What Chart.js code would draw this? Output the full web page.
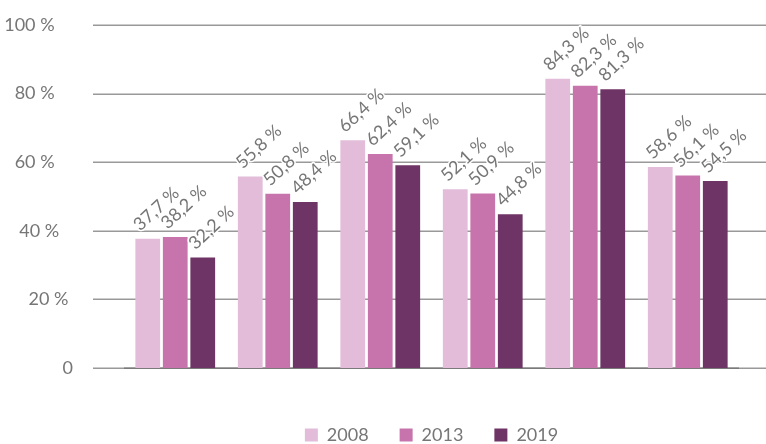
<!DOCTYPE html>
<html>
<head>
<meta charset="utf-8">
<script src="https://cdn.jsdelivr.net/npm/chart.js@4"></script>
<style>
  html, body { margin: 0; padding: 0; background: #fff; }
  #wrap { width: 766px; height: 444px; }
</style>
</head>
<body>
<div id="wrap"><canvas id="chart" width="766" height="444"></canvas></div>
<script>
const categories = ['CCD', 'CCSB', 'COR', 'CCMDL', 'CA3B', 'CCPA'];
const years = ['2008', '2013', '2019'];
const values2008 = [37.7, 55.8, 66.4, 52.1, 84.3, 58.6];
const values2013 = [38.2, 50.8, 62.4, 50.9, 82.3, 56.1];
const values2019 = [32.2, 48.4, 59.1, 44.8, 81.3, 54.5];
const yTicks = [0, 20, 40, 60, 80, 100];
// the original's tick labels are not quite right-aligned; trailing spaces mimic that
const yTickTrail = { 0: '', 20: ' ', 40: '   ', 60: '    ', 80: '    ', 100: '    ' };

const colors = ['#e2bcd9', '#c774ad', '#6e3465'];
const textGray = '#767676';

function formatPct(v) {
    return v.toFixed(1).replace('.', ',') + ' %';
}

// gridlines run wider than the category area, like the original
const wideGrid = {
    id: 'wideGrid',
    beforeDatasetsDraw(chart) {
        const ctx = chart.ctx;
        const y = chart.scales.y;
        ctx.save();
        ctx.lineWidth = 1.5;
        yTicks.forEach(t => {
            const py = Math.round(y.getPixelForValue(t)) + 0.25;
            ctx.strokeStyle = '#999999';
            ctx.beginPath();
            ctx.moveTo(93, py);
            ctx.lineTo(766, py);
            ctx.stroke();
        });
        const py0 = Math.round(y.getPixelForValue(0)) + 0.25;
        ctx.strokeStyle = '#7a7a7a';
        ctx.beginPath();
        ctx.moveTo(chart.chartArea.left, py0);
        ctx.lineTo(chart.chartArea.right, py0);
        ctx.stroke();
        ctx.restore();
    }
};

const barLabels = {
    id: 'barLabels',
    afterDatasetsDraw(chart) {
        const ctx = chart.ctx;
        ctx.save();
        ctx.font = '18px Lato';
        ctx.textAlign = 'left';
        ctx.textBaseline = 'alphabetic';
        ctx.lineJoin = 'round';
        chart.data.datasets.forEach((ds, di) => {
            chart.getDatasetMeta(di).data.forEach((bar, i) => {
                const text = formatPct(ds.data[i]);
                const x = bar.x - bar.width / 2 + 5;
                const y = bar.y - 7;
                ctx.save();
                ctx.translate(x, y);
                ctx.rotate(-43 * Math.PI / 180);
                ctx.strokeStyle = '#ffffff';
                ctx.lineWidth = 3;
                ctx.strokeText(text, 0, 0);
                ctx.fillStyle = textGray;
                ctx.fillText(text, 0, 0);
                ctx.restore();
            });
        });
        ctx.restore();
    }
};

const ctx = document.getElementById('chart').getContext('2d');
const chart = new Chart(ctx, {
    type: 'bar',
    data: {
        labels: categories,
        datasets: [
            { label: years[0], data: values2008, backgroundColor: colors[0] },
            { label: years[1], data: values2013, backgroundColor: colors[1] },
            { label: years[2], data: values2019, backgroundColor: colors[2] }
        ]
    },
    options: {
        responsive: false,
        animation: false,
        devicePixelRatio: 1,
        layout: { padding: { top: 25, right: 27, bottom: 0, left: 0 } },
        datasets: { bar: { barPercentage: 0.9, categoryPercentage: 0.805 } },
        scales: {
            x: {
                grid: { display: false },
                border: { display: false },
                ticks: { color: textGray, font: { family: 'Lato', size: 18 }, padding: 15 },
                afterFit(scale) { scale.height = 27; }
            },
            y: {
                min: 0,
                max: 100,
                afterBuildTicks(scale) { scale.ticks = yTicks.map(v => ({ value: v })); },
                grid: { display: false },
                border: { display: false },
                ticks: {
                    color: textGray,
                    font: { family: 'Lato', size: 18 },
                    padding: 43,
                    callback: v => (v === 0 ? '0' : v + ' %') + (yTickTrail[v] || '')
                },
                afterFit(scale) {
                    scale.width = 124;
                    scale.paddingTop = 10;
                    scale.paddingBottom = 10;
                }
            }
        },
        plugins: {
            legend: {
                position: 'bottom',
                fullSize: false,
                maxHeight: 49,
                labels: {
                    boxWidth: 13,
                    boxHeight: 13,
                    padding: 31,
                    color: textGray,
                    font: { family: 'Lato', size: 18 }
                }
            },
            tooltip: { enabled: false }
        }
    },
    plugins: [wideGrid, barLabels]
});
</script>
</body>
</html>
